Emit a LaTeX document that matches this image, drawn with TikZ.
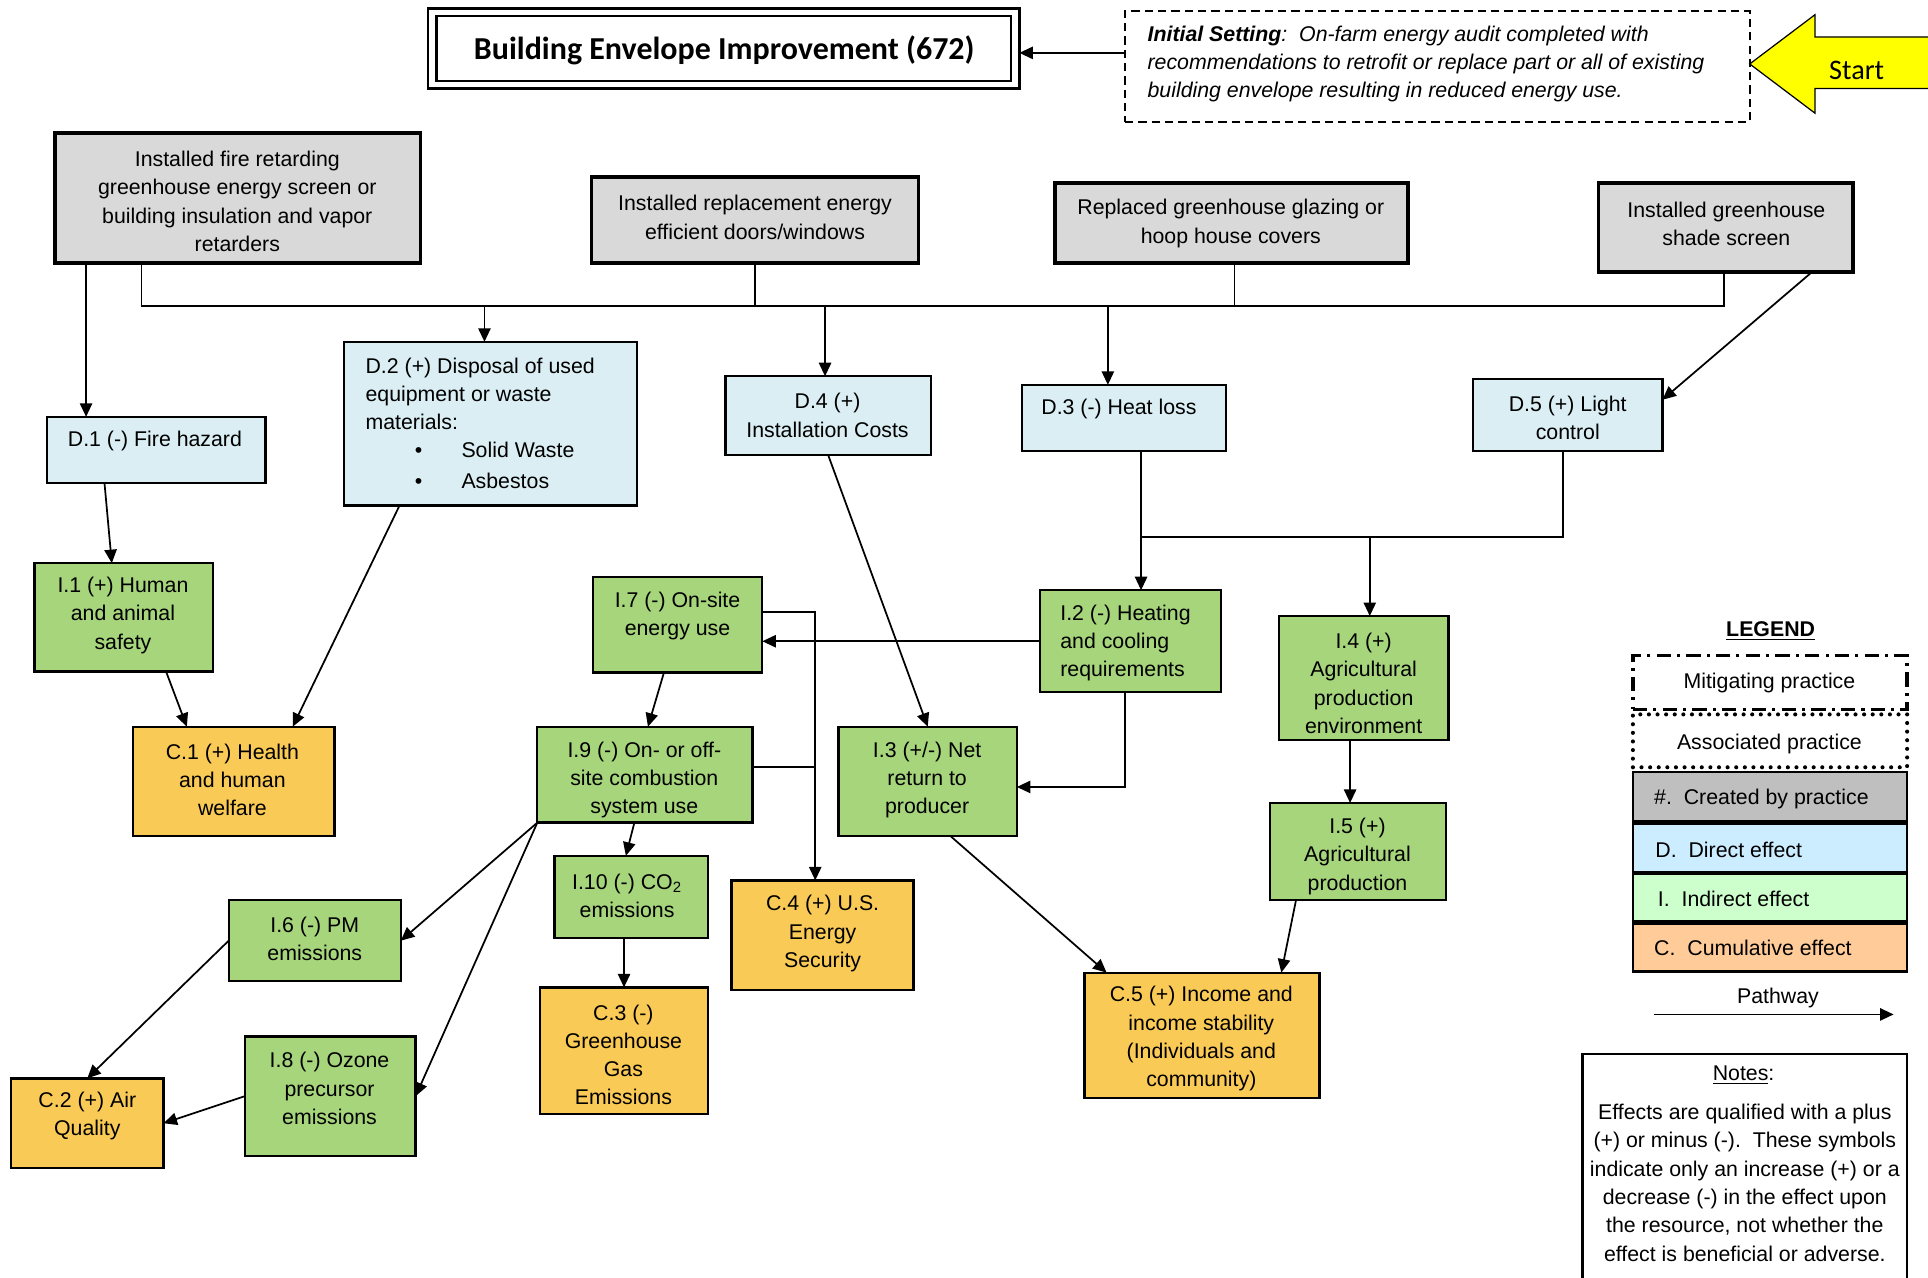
\documentclass[tikz,border=0pt]{standalone}
\usepackage{fontspec}
\setmainfont{Liberation Sans}
\newfontfamily\titlefont{Carlito}
\usetikzlibrary{arrows.meta,calc,fit}

\definecolor{grayfill}{HTML}{D9D9D9}
\definecolor{bluefill}{HTML}{DAEEF3}
\definecolor{greenfill}{RGB}{166,213,124}
\definecolor{orangefill}{RGB}{250,202,86}
\definecolor{lgray}{HTML}{BFBFBF}
\definecolor{lblue}{RGB}{204,236,255}
\definecolor{lgreen}{RGB}{204,255,204}
\definecolor{lorange}{RGB}{255,204,153}
\definecolor{startyellow}{RGB}{255,255,0}

\newcommand\bodyfont{\fontsize{10.4pt}{13.8pt}\selectfont}

\begin{document}
\begin{tikzpicture}[x=0.6pt,y=-0.6pt,
  every node/.style={font=\bodyfont},
  bxbase/.style={inner sep=0pt, outer sep=0pt},
  practice/.style={bxbase, draw, line width=1.8pt, fill=grayfill},
  direct/.style={bxbase, draw, line width=1.1pt, fill=bluefill},
  indirect/.style={bxbase, draw, line width=1.1pt, fill=greenfill},
  cumul/.style={bxbase, draw, line width=1.1pt, fill=orangefill},
  legbox/.style={bxbase, draw, line width=1.1pt},
  txt/.style={inner sep=0pt, align=center, yshift=-0.8pt},
  ltxt/.style={inner sep=0pt, align=left, anchor=west},
  link/.style={line width=0.85pt, line join=miter},
  arr/.style={link, -{Triangle[length=6.6pt,width=6pt]}},
]
\useasboundingbox (0,0) rectangle (1568,1039);

% ---------- title, initial setting, start ----------
\node[bxbase, draw, line width=1.2pt, fit={(348,7) (829,72)}] (title) {};
\node[bxbase, draw, line width=1.2pt, fit={(355,13) (822,66)}] (titlein) {};
\node[txt, font=\titlefont\bfseries\fontsize{15.6pt}{18pt}\selectfont] (titletxt) at (589,40) {Building Envelope Improvement (672)};

\node[bxbase, draw, line width=0.9pt, dash pattern=on 4pt off 2.5pt, fit={(915,9) (1423,99)}] (init) {};
\node[ltxt, font=\bodyfont\itshape] (inittxt) at (933,52) {\textbf{Initial Setting}:\ \ On-farm energy audit completed with\\recommendations to retrofit or replace part or all of existing\\building envelope resulting in reduced energy use.};
\coordinate (ptr) at (870,43);
\draw[arr] (init.west |- ptr) -- (title.east |- ptr);

\draw[fill=startyellow, line width=0.6pt, line join=miter] (1423,52) -- (1476,12) -- (1476,30) -- (1580,30) -- (1580,72) -- (1476,72) -- (1476,92) -- cycle;
\node[txt, font=\titlefont\fontsize{13.8pt}{16pt}\selectfont] (start) at (1510,56) {Start};

% ---------- practices ----------
\node[practice, fit={(45,108) (342,214)}] (g1) {};
\node[txt] (g1t) at (193,162.5) {Installed fire retarding\\greenhouse energy screen or\\building insulation and vapor\\retarders};
\node[practice, fit={(481,144) (747,214)}] (g2) {};
\node[txt] (g2t) at (614,175.5) {Installed replacement energy\\efficient doors/windows};
\node[practice, fit={(858,149) (1145,214)}] (g3) {};
\node[txt] (g3t) at (1001,180.5) {Replaced greenhouse glazing or\\hoop house covers};
\node[practice, fit={(1300,149) (1507,221)}] (g4) {};
\node[txt] (g4t) at (1404,180.5) {Installed greenhouse\\shade screen};

% ---------- direct effects ----------
\node[direct, fit={(38,339) (216,393)}] (d1) {};
\node[txt] (d1t) at (126,357) {D.1 (-) Fire hazard};
\node[direct, fit={(280,278) (518,411)}] (d2) {};
\node[ltxt] (d2t) at (297,344) {D.2 (+) Disposal of used\\equipment or waste\\materials:\\\makebox[46.8pt][l]{\hspace{24pt}\textbullet}Solid Waste\\[1pt]\makebox[46.8pt][l]{\hspace{24pt}\textbullet}Asbestos};
\node[direct, fit={(590,306) (757,370)}] (d4) {};
\node[txt] (d4t) at (673,336.5) {D.4 (+)\\Installation Costs};
\node[direct, fit={(831,313) (997,367)}] (d3) {};
\node[txt] (d3t) at (910,331) {D.3 (-) Heat loss};
\node[direct, fit={(1198,308) (1352,367)}] (d5) {};
\node[txt] (d5t) at (1275,338.5) {D.5 (+) Light\\control};

% ---------- indirect effects ----------
\node[indirect, fit={(28,458) (173,546)}] (i1) {};
\node[txt] (i1t) at (100,499) {I.1 (+) Human\\and animal\\safety};
\node[indirect, fit={(482,469) (620,547)}] (i7) {};
\node[txt] (i7t) at (551,499.5) {I.7 (-) On-site\\energy use};
\node[indirect, fit={(846,480) (993,563)}] (i2) {};
\node[ltxt] (i2t) at (862,523) {I.2 (-) Heating\\and cooling\\requirements};
\node[indirect, fit={(1040,501) (1178,602)}] (i4) {};
\node[txt] (i4t) at (1109,554.5) {I.4 (+)\\Agricultural\\production\\environment};
\node[indirect, fit={(437,591) (612,669)}] (i9) {};
\node[txt] (i9t) at (524,633) {I.9 (-) On- or off-\\site combustion\\system use};
\node[indirect, fit={(682,591) (827,680)}] (i3) {};
\node[txt] (i3t) at (754,633) {I.3 (+/-) Net\\return to\\producer};
\node[indirect, fit={(1033,653) (1176,732)}] (i5) {};
\node[txt] (i5t) at (1104,695) {I.5 (+)\\Agricultural\\production};
\node[indirect, fit={(451,696) (576,763)}] (i10) {};
\node[txt] (i10t) at (510,727) {I.10 (-) CO\textsubscript{2}\\emissions};
\node[indirect, fit={(186,732) (326,798)}] (i6) {};
\node[txt] (i6t) at (256,762.5) {I.6 (-) PM\\emissions};
\node[indirect, fit={(199,843) (338,940)}] (i8) {};
\node[txt] (i8t) at (268,884) {I.8 (-) Ozone\\precursor\\emissions};

% ---------- cumulative effects ----------
\node[cumul, fit={(108,591) (272,680)}] (c1) {};
\node[txt] (c1t) at (189,633) {C.1 (+) Health\\and human\\welfare};
\node[cumul, fit={(595,716) (743,805)}] (c4) {};
\node[txt] (c4t) at (669,758) {C.4 (+) U.S.\\Energy\\Security};
\node[cumul, fit={(439,803) (576,906)}] (c3) {};
\node[txt] (c3t) at (507,856.5) {C.3 (-)\\Greenhouse\\Gas\\Emissions};
\node[cumul, fit={(882,791) (1073,893)}] (c5) {};
\node[txt] (c5t) at (977,843.5) {C.5 (+) Income and\\income stability\\(Individuals and\\community)};
\node[cumul, fit={(9,877) (133,950)}] (c2) {};
\node[txt] (c2t) at (71,906.5) {C.2 (+) Air\\Quality};

% ---------- pathways ----------
\coordinate (xfire) at (70,249);
\draw[arr] (g1.south -| xfire) -- (d1.north -| xfire);
\coordinate (busL) at (115,249);
\coordinate (busR) at (1402,249);
\draw[link] (g1.south -| busL) -- (busL) -- (busR) -- (g4.south -| busR);
\draw[link] (g2.south) -- (g2.south |- busL);
\coordinate (xglz) at (1004,249);
\draw[link] (g3.south -| xglz) -- (xglz);
\coordinate (bd2) at (394,249);
\draw[arr] (bd2) -- (bd2 |- d2.north);
\coordinate (bd4) at (671,249);
\draw[arr] (bd4) -- (bd4 |- d4.north);
\coordinate (bd3) at (901,249);
\draw[arr] (bd3) -- (bd3 |- d3.north);
\draw[arr] ($(g4.south west)!0.84!(g4.south east)$) -- ($(d5.north east)!0.29!(d5.south east)$);

\draw[arr] ($(d1.south west)!0.264!(d1.south east)$) -- ($(i1.north west)!0.434!(i1.north east)$);
\draw[arr] ($(d2.south west)!0.189!(d2.south east)$) -- ($(c1.north west)!0.793!(c1.north east)$);
\draw[arr] (d4.south) -- (i3.north);
\coordinate (jH) at (928,437);
\coordinate (jL) at (1271,437);
\coordinate (jA) at (1114,437);
\draw[link] (d3.south -| jH) -- (jH) -- (jL) -- (d5.south -| jL);
\draw[arr] (jH) -- (jH |- i2.north);
\draw[arr] (jA) -- (jA |- i4.north);

\draw[arr] ($(i1.south west)!0.738!(i1.south east)$) -- ($(c1.north west)!0.268!(c1.north east)$);
\draw[arr] (i2.west) -- (i2.west -| i7.east);
\coordinate (jE) at (663,498);
\coordinate (jF) at (663,624);
\draw[arr] (i7.east |- jE) -- (jE) -- (jE |- c4.north);
\draw[link] (i9.east |- jF) -- (jF);
\draw[arr] ($(i7.south west)!0.42!(i7.south east)$) -- ($(i9.north west)!0.514!(i9.north east)$);
\coordinate (jG) at (915,640);
\draw[arr] (i2.south -| jG) -- (jG) -- (jG -| i3.east);
\coordinate (xag) at (1098,620);
\draw[arr] (i4.south -| xag) -- (i5.north -| xag);
\draw[arr] ($(i9.south west)!0.451!(i9.south east)$) -- ($(i10.north west)!0.464!(i10.north east)$);
\draw[arr] (i10.south -| c3.north) -- (c3.north);
\draw[arr] (i9.south west) -- (i6.east);
\draw[arr] (i9.south west) -- (i8.east);
\draw[arr] (i6.west) -- (c2.north);
\draw[arr] (i8.west) -- (c2.east);
\draw[arr] ($(i3.south west)!0.628!(i3.south east)$) -- ($(c5.north west)!0.094!(c5.north east)$);
\draw[arr] ($(i5.south west)!0.147!(i5.south east)$) -- ($(c5.north west)!0.838!(c5.north east)$);

% ---------- legend ----------
\node[txt, font=\bodyfont\bfseries] (leghead) at (1440,512) {\underline{LEGEND}};
\node[bxbase, draw, line width=1.6pt, dash pattern=on 7pt off 3pt on 1.5pt off 3pt, fit={(1328,533) (1551,577)}] (lgmit) {};
\node[txt] (lgmitt) at (1439,554) {Mitigating practice};
\node[bxbase, draw, line width=2pt, line cap=round, dash pattern=on 0pt off 4.2pt, fit={(1328,581) (1551,624)}] (lgass) {};
\node[txt] (lgasst) at (1439,604) {Associated practice};
\node[legbox, fill=lgray, fit={(1328,628) (1551,668)}] (lgcre) {};
\node[ltxt] (lgcret) at (1345,650) {\#.\ \ Created by practice};
\node[legbox, fill=lblue, fit={(1328,670) (1551,709)}] (lgdir) {};
\node[ltxt] (lgdirt) at (1346,691) {D.\ \ Direct effect};
\node[legbox, fill=lgreen, fit={(1328,711) (1551,749)}] (lgind) {};
\node[ltxt] (lgindt) at (1348,731) {I.\ \ Indirect effect};
\node[legbox, fill=lorange, fit={(1328,751) (1551,790)}] (lgcum) {};
\node[ltxt] (lgcumt) at (1345,771) {C.\ \ Cumulative effect};
\node[txt] (pathlbl) at (1446,810) {Pathway};
\coordinate (pwA) at (1345,825);
\coordinate (pwB) at (1540,825);
\draw[arr] (pwA) -- (pwB);

% ---------- notes ----------
\node[legbox, fit={(1287,857) (1551,1070)}] (notes) {};
\node[txt] (notesh) at (1418,873) {\underline{Notes}:};
\node[txt] (notest) at (1419,960.5) {Effects are qualified with a plus\\(+) or minus (-).\ \ These symbols\\indicate only an increase (+) or a\\decrease (-) in the effect upon\\the resource, not whether the\\effect is beneficial or adverse.};
\end{tikzpicture}
\end{document}
